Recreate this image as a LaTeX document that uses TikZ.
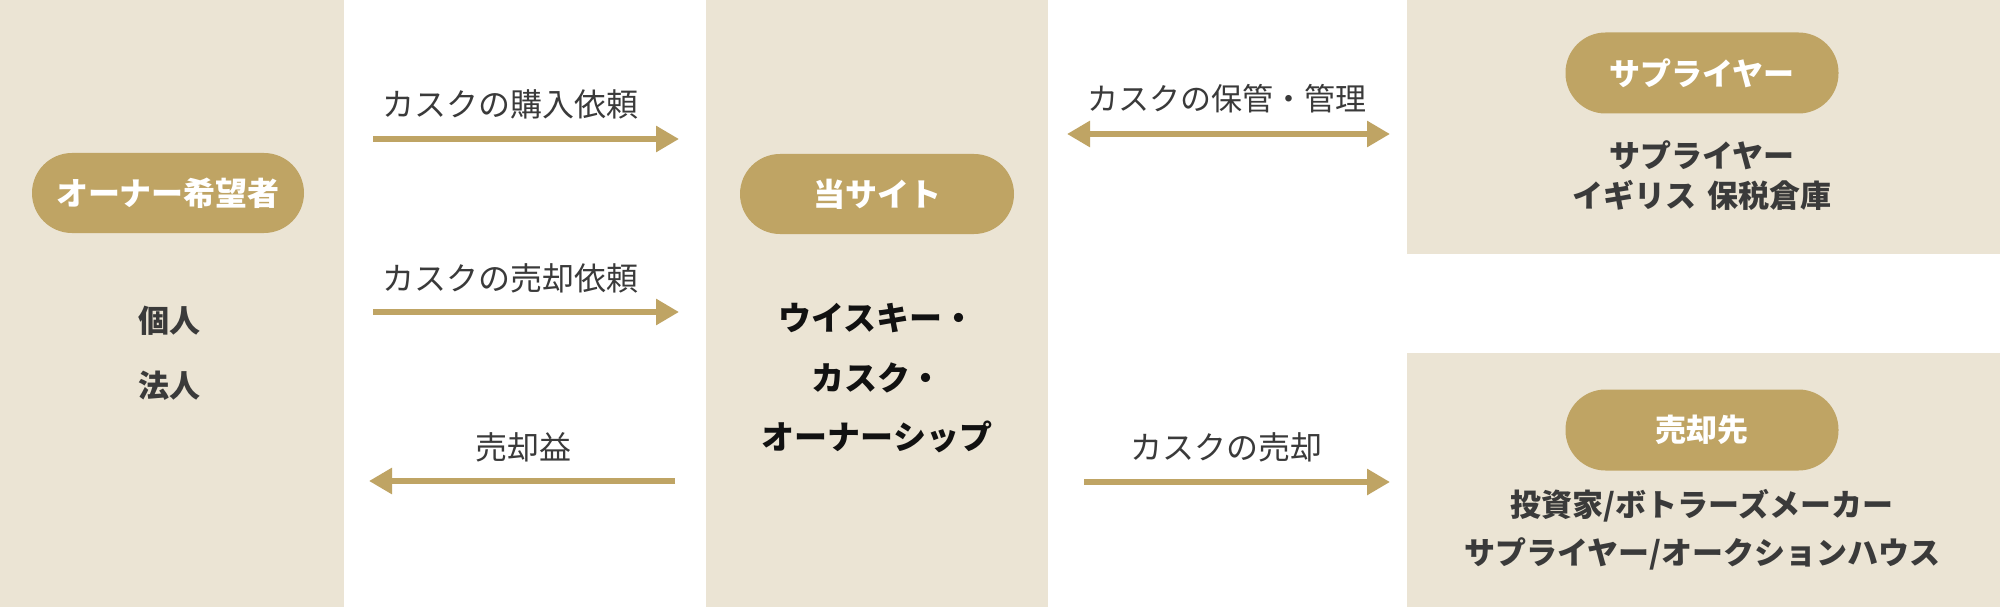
\documentclass[tikz,border=0pt]{standalone}
\usepackage{fontspec}
\setmainfont{Noto Sans CJK JP}
\usetikzlibrary{arrows.meta}
\definecolor{panelbg}{RGB}{235,228,212}
\definecolor{gold}{RGB}{191,164,100}
\definecolor{darktext}{RGB}{58,58,58}
\definecolor{blacktext}{RGB}{17,17,17}
\begin{document}
\begin{tikzpicture}[x=1pt,y=-1pt,
  panel/.style={fill=panelbg, draw=none, inner sep=0pt, anchor=north west},
  pill/.style={fill=gold, draw=none, rounded corners=40pt, minimum width=273pt, minimum height=81pt,
    inner sep=0pt, text=white, font=\fontsize{31}{31}\selectfont\bfseries},
  bodytxt/.style={text=darktext, inner sep=0pt, font=\fontsize{31}{31}\selectfont\bfseries},
  midtxt/.style={text=blacktext, inner sep=0pt, font=\fontsize{33}{33}\selectfont\bfseries},
  lbl/.style={text=darktext, inner sep=0pt, font=\fontsize{32}{32}\selectfont},
  flow/.style={draw=gold, line width=6pt, -{Triangle[length=23pt,width=25pt]}},
  flowboth/.style={draw=gold, line width=6pt, {Triangle[length=23pt,width=25pt]}-{Triangle[length=23pt,width=25pt]}}
]
\useasboundingbox (0,0) rectangle (2000,607);
\fill[white] (0,0) rectangle (2000,607);

% panels
\node[panel, minimum width=344pt, minimum height=607pt] (ownerpanel) at (0,0) {};
\node[panel, minimum width=342pt, minimum height=607pt] (sitepanel) at (706,0) {};
\node[panel, minimum width=593pt, minimum height=254pt] (supplierpanel) at (1407,0) {};
\node[panel, minimum width=593pt, minimum height=254pt] (buyerpanel) at (1407,353) {};

% pills
\node[pill, minimum width=272pt, minimum height=80pt, font=\fontsize{32}{32}\selectfont\bfseries] (ownerpill) at (168,193) {オーナー希望者};
\node[pill, minimum width=274pt, minimum height=80pt, font=\fontsize{32}{32}\selectfont\bfseries] (sitepill) at (877,194) {当サイト};
\node[pill] (supplierpill) at (1702,73) {サプライヤー};
\node[pill] (buyerpill) at (1702,430) {売却先};

% body texts
\node[bodytxt] (kojin) at (169,321) {個人};
\node[bodytxt] (hojin) at (169,386) {法人};

\node[midtxt] (mid1) at (877,318) {ウイスキー・};
\node[midtxt] (mid2) at (877,378) {カスク・};
\node[midtxt] (mid3) at (877,437) {オーナーシップ};

\node[bodytxt] (sup1) at (1702,155) {サプライヤー};
\node[bodytxt] (sup2) at (1702,195) {イギリス\hspace{4pt} 保税倉庫};

\node[bodytxt] (buy1) at (1702,506) {投資家/ボトラーズメーカー};
\node[bodytxt] (buy2) at (1702,554) {サプライヤー/オークションハウス};

% arrow labels
\node[lbl] (lab1) at (510,104) {カスクの購入依頼};
\node[lbl] (lab2) at (510,278) {カスクの売却依頼};
\node[lbl] (lab3) at (523,447) {売却益};
\node[lbl, font=\fontsize{31}{31}\selectfont] (lab4) at (1227,99) {カスクの保管・管理};
\node[lbl] (lab5) at (1226,447) {カスクの売却};

% arrow end points
\coordinate (a1s) at (373,139);
\coordinate (a1e) at (679,139);
\coordinate (a2s) at (373,312);
\coordinate (a2e) at (679,312);
\coordinate (a3s) at (675,481);
\coordinate (a3e) at (369,481);
\coordinate (a4s) at (1067,134);
\coordinate (a4e) at (1390,134);
\coordinate (a5s) at (1084,482);
\coordinate (a5e) at (1390,482);

\draw[flow] (a1s) -- (a1e);
\draw[flow] (a2s) -- (a2e);
\draw[flow] (a3s) -- (a3e);
\draw[flowboth] (a4s) -- (a4e);
\draw[flow] (a5s) -- (a5e);
\end{tikzpicture}
\end{document}
